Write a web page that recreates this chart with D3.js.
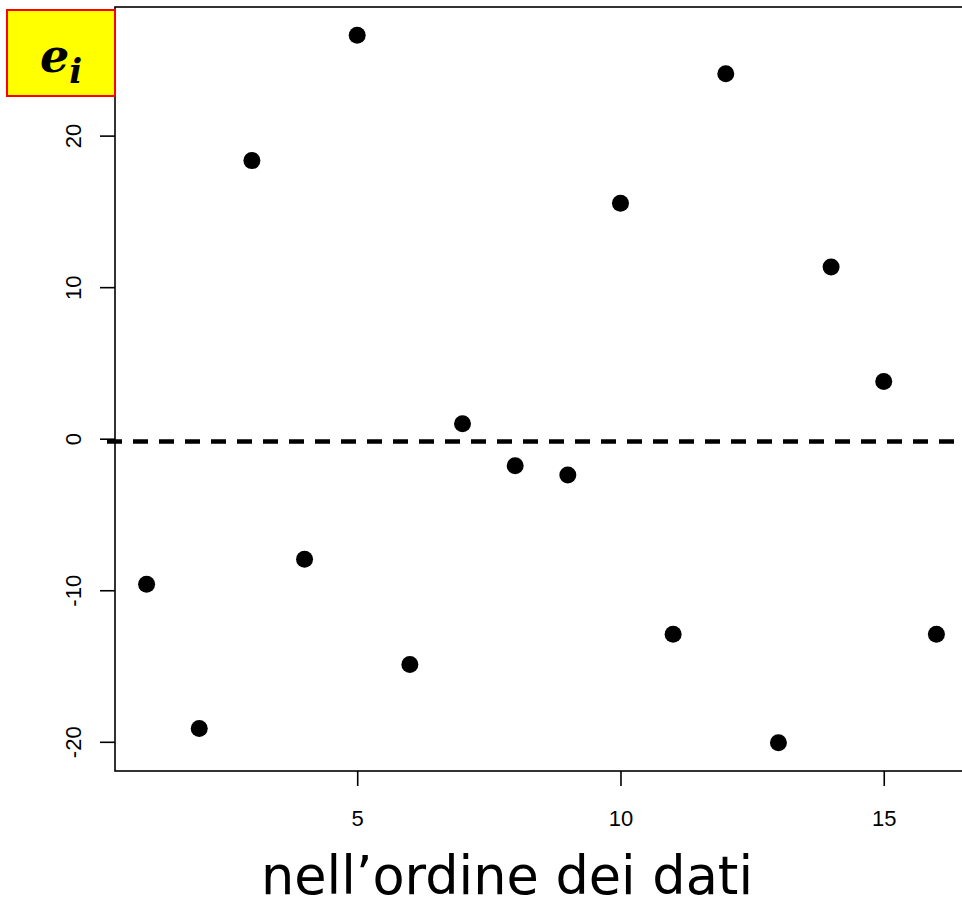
<!DOCTYPE html>
<html>
<head>
<meta charset="utf-8">
<script src="https://cdn.jsdelivr.net/npm/d3@7"></script>
<style>
  body { margin: 0; background: #fff; }
  svg { display: block; }
</style>
</head>
<body>
<div id="chart"></div>
<script>
// residuals in data order
var order = [1, 2, 3, 4, 5, 6, 7, 8, 9, 10, 11, 12, 13, 14, 15, 16];
var residuals = [-9.60, -19.12, 18.35, -7.95, 26.62, -14.90, 0.99, -1.79,
                 -2.39, 15.53, -12.91, 24.08, -20.06, 11.33, 3.77, -12.91];
var xTicks = [5, 10, 15];
var yTicks = [-20, -10, 0, 10, 20];
var refLine = -0.18;

function drawChart() {
    var width = 962, height = 901;

    var svg = d3.select("#chart").append("svg")
        .attr("width", width)
        .attr("height", height);

    // plot region (right side runs off the page like the original)
    var plotLeft = 115, plotTop = 7, plotBottom = 771, plotRight = 968;

    // R style 4% extension
    var xr = d3.extent(order), yr = d3.extent(residuals);
    var xPad = (xr[1] - xr[0]) * 0.04, yPad = (yr[1] - yr[0]) * 0.04;

    var x = d3.scaleLinear()
        .domain([xr[0] - xPad, xr[1] + xPad])
        .range([plotLeft, plotRight]);

    var y = d3.scaleLinear()
        .domain([yr[0] - yPad, yr[1] + yPad])
        .range([plotBottom, plotTop]);

    // box
    svg.append("rect")
        .attr("x", plotLeft)
        .attr("y", plotTop)
        .attr("width", plotRight - plotLeft)
        .attr("height", plotBottom - plotTop)
        .attr("fill", "none")
        .attr("stroke", "#000")
        .attr("stroke-width", 1.6);

    // axes
    var plain = function(d) { return String(d); };

    var xAxis = svg.append("g")
        .attr("transform", "translate(0," + plotBottom + ")")
        .call(d3.axisBottom(x).tickValues(xTicks).tickFormat(plain)
            .tickSize(15).tickPadding(24));
    xAxis.select(".domain").remove();

    var yAxis = svg.append("g")
        .attr("transform", "translate(" + plotLeft + ",0)")
        .call(d3.axisLeft(y).tickValues(yTicks).tickFormat(plain)
            .tickSize(15).tickPadding(0));
    yAxis.select(".domain").remove();

    svg.selectAll(".tick line")
        .attr("stroke", "#000")
        .attr("stroke-width", 1.6);

    xAxis.selectAll(".tick text")
        .attr("font-family", "Liberation Sans, Arial, sans-serif")
        .attr("font-size", 22)
        .attr("fill", "#000");

    yAxis.selectAll(".tick text")
        .attr("font-family", "Liberation Sans, Arial, sans-serif")
        .attr("font-size", 22)
        .attr("fill", "#000")
        .attr("text-anchor", "middle")
        .attr("dy", 0)
        .attr("x", 0)
        .attr("transform", "translate(-34,0) rotate(-90)");

    // dashed reference line
    svg.append("line")
        .attr("x1", 107)
        .attr("x2", width)
        .attr("y1", y(refLine))
        .attr("y2", y(refLine))
        .attr("stroke", "#000")
        .attr("stroke-width", 4.5)
        .attr("stroke-dasharray", "15,11");

    // points
    svg.selectAll("circle.pt")
        .data(residuals)
        .enter()
        .append("circle")
            .attr("class", "pt")
            .attr("cx", function(d, i) { return x(order[i]); })
            .attr("cy", function(d) { return y(d); })
            .attr("r", 8.5)
            .attr("fill", "#000");

    // x label
    svg.append("text")
        .attr("x", 507)
        .attr("y", 894)
        .attr("text-anchor", "middle")
        .attr("font-family", "DejaVu Sans, Verdana, sans-serif")
        .attr("font-size", 52.5)
        .attr("fill", "#000")
        .text("nell\u2019ordine dei dati");

    // yellow label box
    svg.append("rect")
        .attr("x", 7)
        .attr("y", 10)
        .attr("width", 108)
        .attr("height", 86)
        .attr("fill", "#ffff00")
        .attr("stroke", "#ff0000")
        .attr("stroke-width", 2);

    var lab = svg.append("text")
        .attr("x", 61)
        .attr("y", 72)
        .attr("text-anchor", "middle")
        .attr("font-family", "DejaVu Serif, serif")
        .attr("font-weight", "bold")
        .attr("font-style", "italic")
        .attr("fill", "#000");
    lab.append("tspan").attr("font-size", 46).text("e");
    lab.append("tspan").attr("font-size", 34).attr("dy", 11).text("i");
}

drawChart();
</script>
</body>
</html>
